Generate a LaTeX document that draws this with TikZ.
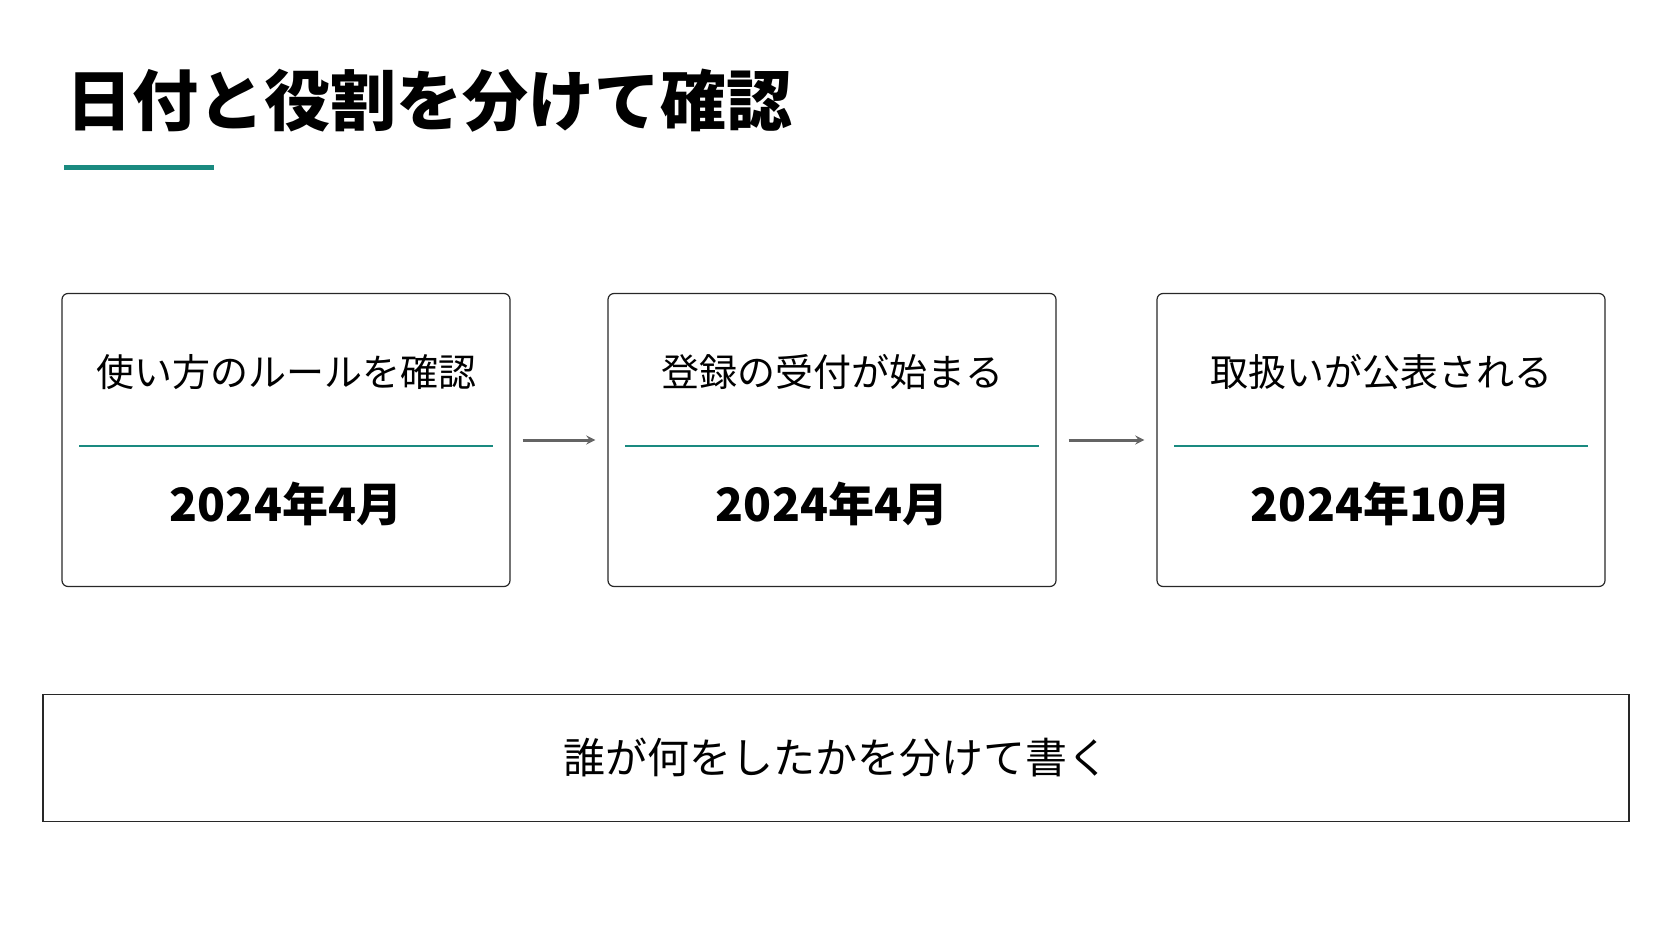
\documentclass[tikz,border=0pt]{standalone}
\usepackage{fontspec}
\setmainfont{Noto Sans CJK JP}
\usetikzlibrary{positioning}
\definecolor{teal}{RGB}{26,138,128}
\definecolor{arrowgray}{RGB}{100,100,100}
\definecolor{framegray}{RGB}{40,40,40}

\begin{document}
\begin{tikzpicture}[
            x = 1pt, y = -1pt,
            > = stealth, % arrow head style
            step box/.style = {draw = framegray, line width = 1.2pt, rounded corners = 6pt,
                minimum width = 448pt, minimum height = 293pt, inner sep = 0pt},
            date/.style = {font = \fontsize{46}{50}\selectfont\bfseries},
            desc/.style = {font = \fontsize{38}{42}\selectfont},
            next/.style = {->, draw = arrowgray, line width = 3pt}
        ]
        \useasboundingbox (0,0) rectangle (1672,941);

	% title
        \node[anchor = base west, inner sep = 0pt, font = \fontsize{66}{70}\selectfont\bfseries] (title) at (66,126) {日付と役割を分けて確認};
        \draw[teal, line width = 5pt] (64,168) -- (214,168);

	% steps
        \node[step box] (S1) at (286,440) {};
        \node[step box] (S2) at (832,440) {};
        \node[step box] (S3) at (1381,440) {};

        \foreach \s/\d/\t in {S1/2024年4月/使い方のルールを確認, S2/2024年4月/登録の受付が始まる, S3/2024年10月/取扱いが公表される} {
            \node[date] (\s d) at ([yshift=-64pt]\s.center) {\d};
            \node[desc] (\s t) at ([yshift=68pt]\s.center) {\t};
            \draw[teal, line width = 2.5pt] ([xshift=18pt, yshift=-6pt]\s.west) -- ([xshift=-18pt, yshift=-6pt]\s.east);
        }

        \draw[next] ([xshift=12pt]S1.east) -- ([xshift=-12pt]S2.west);
        \draw[next] ([xshift=12pt]S2.east) -- ([xshift=-12pt]S3.west);

	% summary
        \node[draw = framegray, line width = 1.5pt, minimum width = 1586pt, minimum height = 127pt] (note) at (836,758) {};
        \node[font = \fontsize{42}{46}\selectfont] (note t) at (note.center) {誰が何をしたかを分けて書く};
\end{tikzpicture}
\end{document}
